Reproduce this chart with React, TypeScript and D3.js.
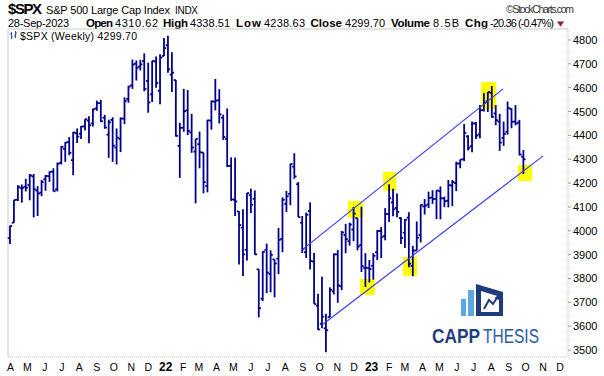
import React from "react";
import * as d3 from "d3";

// Weekly bars, first bar = week of 29-Mar-2021, last = week of 25-Sep-2023
const opens = [3969,4034,4130,4179,4185,4192,4228,4169,4160,4216,4229,4248,4174,4285,4343,4372,4296,4409,4407,4438,4462,4450,4513,4535,4474,4403,4465,4349,4386,4470,4553,4610,4701,4689,4712,4628,4572,4710,4587,4733,
4778,4655,4632,4356,4432,4505,4412,4332,4363,4328,4188,4462,4541,4547,4474,4385,4272,4130,4081,4013,3920,4149,4134,3838,3715,3920,3819,3880,3883,3966,4113,4155,4269,4195,4034,3910,4083,3871,3686,3610,3591,3638,3746,3901,3767,3982,3956,4005,4053,3940,3844,3843,
3853,3910,3999,3979,4070,4119,4096,4053,3992,4055,3853,3917,3982,4102,4110,4139,4134,4166,4136,4126,4190,4200,4282,4300,4396,4355,4450,4404,4506,4543,4578,4492,4458,4389,4415,4511,4458,4454,4310.62];
const highs = [4020,4129,4191,4194,4218,4238,4238,4187,4213,4234,4249,4262,4286,4356,4372,4393,4415,4429,4439,4468,4480,4513,4546,4549,4486,4466,4476,4429,4475,4560,4608,4718,4714,4717,4744,4705,4713,4731,4740,4808,
4818,4749,4632,4453,4595,4590,4490,4385,4416,4328,4465,4546,4637,4594,4487,4513,4308,4307,4082,4090,4158,4177,4169,3839,3914,3946,3918,3880,4012,4140,4167,4280,4325,4204,4062,4076,4119,3907,3736,3807,3652,3763,3905,3920,3999,4029,4034,4100,4053,4101,3906,3878,
3906,4003,4016,4095,4195,4176,4156,4057,4049,4078,3937,4039,4110,4133,4164,4170,4170,4186,4143,4213,4213,4290,4299,4448,4401,4458,4456,4527,4578,4582,4607,4527,4490,4458,4542,4514,4527,4465,4338.51];
const lows = [3944,4034,4125,4118,4165,4128,4056,4062,4145,4168,4205,4165,4165,4278,4289,4317,4233,4368,4385,4420,4367,4437,4503,4456,4428,4306,4289,4278,4330,4447,4537,4595,4630,4672,4585,4495,4540,4600,4531,4733,
4663,4582,4395,4222,4415,4401,4327,4115,4262,4157,4161,4424,4505,4450,4381,4267,4125,4062,3859,3810,3875,4074,3900,3637,3705,3739,3742,3721,3818,3910,4079,4107,4218,4057,3907,3886,3838,3694,3584,3591,3491,3638,3733,3698,3751,3906,3938,3956,3918,3827,3764,3783,
3795,3877,3885,3960,4037,4061,4057,3944,3928,3847,3809,3917,3951,4068,4095,4113,4049,4048,4099,4098,4103,4166,4262,4292,4337,4329,4385,4388,4500,4498,4474,4443,4335,4356,4403,4430,4442,4316,4238.63];
const closes = [4020,4129,4185,4180,4181,4232,4174,4156,4204,4230,4247,4166,4281,4352,4370,4327,4412,4395,4437,4468,4442,4509,4535,4459,4433,4455,4357,4391,4471,4545,4605,4697,4683,4698,4595,4538,4712,4620,4726,4766,
4677,4663,4398,4432,4501,4419,4349,4385,4329,4204,4463,4543,4546,4488,4393,4272,4132,4123,4024,3901,4158,4109,3901,3675,3912,3825,3899,3863,3962,4130,4145,4280,4228,4057,3924,4067,3873,3693,3586,3640,3583,3753,3901,3771,3993,3965,4026,4072,3934,3852,3845,3840,
3895,3999,3973,4071,4136,4090,4079,3970,4046,3862,3917,3971,4109,4105,4138,4133,4169,4136,4124,4191,4205,4282,4299,4410,4348,4450,4399,4505,4536,4582,4478,4464,4370,4406,4515,4457,4450,4320,4299.70];

const priceTicks = [4800,4700,4600,4500,4400,4300,4200,4100,4000,3900,3800,3700,3600,3500];
const monthLetters = ["J","F","M","A","M","J","J","A","S","O","N","D"];

// channel lines in (week index, price)
const upperChannel: [number, number][] = [[73.95, 3920], [124.85, 4595]];
const lowerChannel: [number, number][] = [[79, 3605], [135, 4314]];
// highlight boxes [i0, i1, vTop, vBottom]
const highlights: [number, number, number, number][] = [
  [85.6, 89.4, 4125, 4054],
  [94.5, 97.8, 4247, 4167],
  [88.6, 92.4, 3798, 3731],
  [99.5, 103.1, 3891, 3811],
  [119.3, 123.1, 4624, 4511],
  [128.6, 132.2, 4276, 4209],
];

const W = 604, H = 376;
const L = 8, R = 568, T = 29, B = 357;
const FONT = "'Liberation Sans', Arial, sans-serif";
const BAR = "#00008c";

export default function App() {
  const x = d3.scaleLinear().domain([-0.5, 141.3]).range([L, R]);
  const y = d3.scaleLinear().domain([3500, 4800]).range([350, 40]);
  const t0 = new Date(2021, 2, 31);
  const weekIdx = (d: Date) => (d.getTime() - t0.getTime()) / (7 * 864e5);
  const months = d3.timeMonth.range(new Date(2021, 3, 1), new Date(2023, 11, 2));
  const line = d3.line<[number, number]>().x(d => x(d[0])).y(d => y(d[1]));

  return (
    <svg width={W} height={H} style={{ position: "absolute", left: 0, top: 0, background: "#fff" }} fontFamily={FONT}>
      <rect x={0} y={0} width={W} height={H} fill="#fff" />
      {/* header line 1 */}
      <text x={8} y={14} fontSize={15} fontWeight="bold" textLength={34} fill="#000">$SPX</text>
      <text x={46} y={14} fontSize={11} textLength={124} fill="#000">S&amp;P 500 Large Cap Index</text>
      <text x={175} y={14} fontSize={10} textLength={23} fill="#000">INDX</text>
      <text x={574} y={13} fontSize={10.5} textAnchor="end" textLength={68} fill="#333">©StockCharts.com</text>
      {/* header line 2 */}
      <text x={8} y={27} fontSize={11} textLength={61} fill="#000">28-Sep-2023</text>
      {([
        ["Open", 86, 27, true], ["4310.62", 115, 43, false],
        ["High", 163, 25, true], ["4338.51", 190, 40, false],
        ["Low", 236, 25, true], ["4238.63", 264, 41, false],
        ["Close", 310.5, 31.5, true], ["4299.70", 345, 40, false],
        ["Volume", 391, 39, true], ["8.5B", 433, 26, false],
        ["Chg", 465, 23, true], ["-20.36 (-0.47%)", 490, 64, false],
      ] as [string, number, number, boolean][]).map(([s, px, len, b], k) => (
        <text key={k} x={px} y={27} fontSize={b ? 11.5 : 11} fontWeight={b ? "bold" : "normal"} textLength={len} fill="#000">{s}</text>
      ))}
      <polygon points="557,21.5 564,21.5 560.5,26.5" fill="#a0102c" />

      {/* plot frame */}
      <line x1={L} y1={T} x2={R} y2={T} stroke="#c8c8c8" />
      <line x1={L} y1={T} x2={L} y2={B} stroke="#c8c8c8" />
      <line x1={R} y1={T} x2={R} y2={B} stroke="#bdbdbd" strokeDasharray="1,1" />
      <line x1={L} y1={B} x2={R} y2={B} stroke="#bdbdbd" strokeDasharray="1,1" />

      {/* highlight boxes */}
      {highlights.map((h, k) => (
        <rect key={k} x={x(h[0])} y={y(h[2])} width={x(h[1]) - x(h[0])} height={y(h[3]) - y(h[2])} fill="#ffff00" />
      ))}

      {/* bars */}
      {opens.map((o, i) => {
        const cx = x(i);
        return (
          <g key={i} stroke={BAR} strokeWidth={1.8}>
            <line x1={cx} x2={cx} y1={y(highs[i])} y2={y(lows[i])} />
            <line x1={cx - 2.2} x2={cx} y1={y(o)} y2={y(o)} />
            <line x1={cx} x2={cx + 2.2} y1={y(closes[i])} y2={y(closes[i])} />
          </g>
        );
      })}

      {/* channel */}
      <path d={line(upperChannel) || ""} stroke="#3a3aff" strokeWidth={1.2} fill="none" />
      <path d={line(lowerChannel) || ""} stroke="#3a3aff" strokeWidth={1.2} fill="none" />

      {/* legend */}
      <g stroke="#3050d0" strokeWidth={1}>
        <line x1={11.5} x2={11.5} y1={32} y2={39} />
        <line x1={10} x2={11.5} y1={34} y2={34} />
        <line x1={11.5} x2={13} y1={37} y2={37} />
        <line x1={15.5} x2={15.5} y1={31} y2={38} />
        <line x1={14} x2={15.5} y1={36} y2={36} />
        <line x1={15.5} x2={17} y1={33} y2={33} />
      </g>
      <text x={20} y={40} fontSize={10.5} textLength={117} fill="#000">$SPX (Weekly) 4299.70</text>

      {/* right axis */}
      {priceTicks.map(v => (
        <g key={v}>
          <line x1={R} x2={R + 3} y1={y(v)} y2={y(v)} stroke="#999" />
          <text x={573} y={y(v) + 4} fontSize={11} fill="#000">{v}</text>
        </g>
      ))}

      {/* bottom axis */}
      {months.map((m, k) => {
        const mi = m.getMonth();
        const isYear = mi === 0;
        const label = isYear ? String(m.getFullYear()).slice(2) : monthLetters[mi];
        return (
          <text key={k} x={x(weekIdx(m))} y={371} fontSize={isYear ? 12 : 10.5} fontWeight={isYear ? "bold" : "normal"} textAnchor="middle" fill="#000">{label}</text>
        );
      })}

      {/* logo */}
      <g>
        <rect x={461} y={299} width={5} height={17} fill="#5aa8e0" />
        <rect x={468} y={290} width={6} height={26} fill="#5aa8e0" />
        <path d="M476,284 L503,292 L503,316 L476,316 Z M481,291 L499,296.5 L499,312 L481,312 Z" fill="#1e3c7c" fillRule="evenodd" />
        <polyline points="484,309 489,300 493,304 497.5,297" fill="none" stroke="#1e3c7c" strokeWidth={2} />
        <polygon points="499.5,294 500,300.5 494.5,298" fill="#1e3c7c" />
        <text x={432} y={343} fontSize={20} fontWeight="bold" fill="#1e3c7c" textLength={48} lengthAdjust="spacingAndGlyphs">CAPP</text>
        <text x={483} y={343} fontSize={20} fill="#2a5aa6" textLength={56} lengthAdjust="spacingAndGlyphs">THESIS</text>
      </g>
    </svg>
  );
}
